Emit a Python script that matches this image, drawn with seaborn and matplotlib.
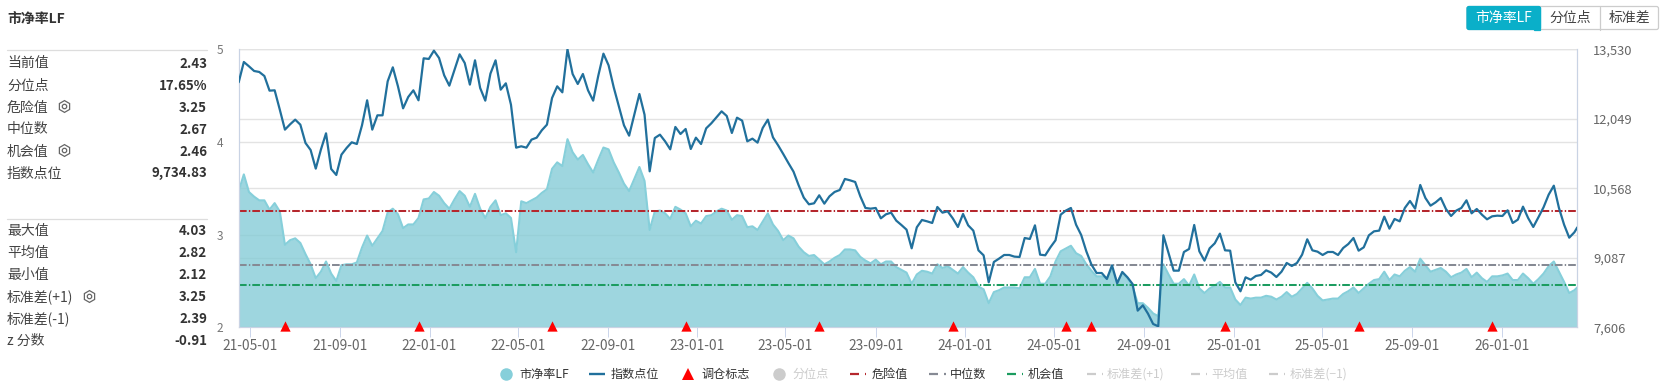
import matplotlib
matplotlib.use("Agg")
import matplotlib.pyplot as plt
from matplotlib.patches import FancyBboxPatch, Rectangle
import numpy as np
import pandas as pd
import seaborn as sns

# weekly readings, last one is a partial week
pb_values = [
    3.47, 3.65, 3.46, 3.41, 3.37, 3.37, 3.27, 3.34, 3.25, 2.89, 2.94, 2.96, 2.91, 2.79, 2.68, 2.53,
    2.60, 2.71, 2.58, 2.50, 2.67, 2.68, 2.68, 2.70, 2.86, 2.99, 2.88, 2.96, 3.04, 3.24, 3.28, 3.22,
    3.07, 3.11, 3.11, 3.18, 3.38, 3.39, 3.46, 3.42, 3.34, 3.28, 3.38, 3.47, 3.42, 3.30, 3.44, 3.28,
    3.18, 3.30, 3.37, 3.21, 3.23, 3.18, 2.81, 3.36, 3.34, 3.37, 3.40, 3.45, 3.49, 3.71, 3.78, 3.74,
    4.03, 3.89, 3.81, 3.86, 3.76, 3.67, 3.81, 3.94, 3.92, 3.78, 3.67, 3.55, 3.47, 3.60, 3.73, 3.58,
    3.05, 3.25, 3.26, 3.23, 3.17, 3.30, 3.27, 3.23, 3.09, 3.15, 3.12, 3.20, 3.21, 3.25, 3.28, 3.26,
    3.16, 3.21, 3.20, 3.08, 3.09, 3.05, 3.14, 3.23, 3.11, 3.04, 2.94, 2.99, 2.96, 2.87, 2.81, 2.77,
    2.78, 2.73, 2.68, 2.71, 2.75, 2.78, 2.84, 2.84, 2.83, 2.76, 2.72, 2.69, 2.73, 2.68, 2.71, 2.71,
    2.65, 2.62, 2.59, 2.47, 2.57, 2.61, 2.60, 2.58, 2.68, 2.64, 2.66, 2.62, 2.58, 2.65, 2.59, 2.54,
    2.44, 2.41, 2.26, 2.38, 2.40, 2.43, 2.43, 2.43, 2.42, 2.54, 2.54, 2.63, 2.47, 2.47, 2.55, 2.71,
    2.82, 2.85, 2.88, 2.80, 2.77, 2.68, 2.61, 2.55, 2.55, 2.53, 2.63, 2.48, 2.59, 2.53, 2.44, 2.26,
    2.26, 2.21, 2.15, 2.12, 2.68, 2.57, 2.47, 2.47, 2.52, 2.45, 2.57, 2.42, 2.37, 2.42, 2.45, 2.49,
    2.43, 2.43, 2.30, 2.24, 2.32, 2.31, 2.32, 2.32, 2.34, 2.33, 2.30, 2.33, 2.38, 2.33, 2.36, 2.42,
    2.48, 2.42, 2.34, 2.29, 2.30, 2.31, 2.31, 2.36, 2.39, 2.43, 2.37, 2.42, 2.47, 2.51, 2.52, 2.60,
    2.51, 2.57, 2.55, 2.61, 2.65, 2.60, 2.74, 2.67, 2.60, 2.62, 2.64, 2.60, 2.54, 2.57, 2.59, 2.63,
    2.54, 2.59, 2.53, 2.49, 2.55, 2.55, 2.56, 2.58, 2.51, 2.51, 2.58, 2.53, 2.47, 2.52, 2.58, 2.66,
    2.71, 2.60, 2.49, 2.37, 2.40, 2.43,
]
index_values = [
    12827, 13260, 13167, 13068, 13047, 12961, 12649, 12656, 12244, 11818, 11931, 12031, 11924, 11534, 11384, 10987,
    11392, 11740, 10980, 10852, 11285, 11427, 11548, 11512, 11910, 12443, 11818, 12123, 12123, 12848, 13146, 12741,
    12272, 12514, 12656, 12443, 13338, 13324, 13501, 13345, 12976, 12755, 13089, 13423, 13238, 12777, 13295, 12706,
    12436, 13011, 13295, 12670, 12805, 12350, 11434, 11463, 11434, 11605, 11647, 11804, 11924, 12493, 12741, 12613,
    13530, 13004, 12791, 13004, 12656, 12436, 12968, 13437, 13189, 12720, 12315, 11910, 11690, 12137, 12578, 12137,
    10930, 11640, 11711, 11569, 11399, 11875, 11725, 11832, 11406, 11647, 11512, 11846, 11953, 12081, 12208, 12109,
    11747, 12073, 12010, 11569, 11626, 11541, 11853, 12031, 11654, 11484, 11299, 11107, 10923, 10632, 10369, 10227,
    10248, 10419, 10241, 10397, 10490, 10532, 10767, 10738, 10703, 10397, 10149, 10134, 10149, 9928, 10014, 10049,
    9879, 9786, 9687, 9289, 9737, 9893, 9864, 9829, 10170, 10049, 10078, 9928, 9744, 10021, 9779, 9666,
    9246, 9140, 8565, 8998, 9069, 9147, 9147, 9112, 9104, 9509, 9488, 9779, 9154, 9140, 9310, 9460,
    10006, 10092, 10149, 9793, 9573, 9225, 8941, 8763, 8763, 8636, 8927, 8543, 8785, 8671, 8529, 7961,
    8074, 7897, 7677, 7627, 9566, 9190, 8813, 8813, 9211, 9275, 9786, 9225, 9026, 9289, 9396, 9602,
    9246, 9239, 8565, 8373, 8671, 8621, 8700, 8721, 8820, 8771, 8678, 8792, 8977, 8913, 8977, 9154,
    9481, 9246, 9218, 9147, 9211, 9211, 9147, 9296, 9381, 9509, 9239, 9310, 9566, 9651, 9666, 9964,
    9708, 9914, 9864, 10149, 10298, 10134, 10639, 10362, 10198, 10269, 10362, 10127, 9978, 10092, 10149, 10312,
    10035, 10127, 10006, 9907, 9971, 9985, 9978, 10099, 9829, 9900, 10177, 9935, 9744, 9950, 10163, 10433,
    10624, 10149, 9793, 9516, 9630, 9735,
]
rebalance_dates = ["2021-06-18", "2021-12-17", "2022-06-17", "2022-12-16", "2023-06-16", "2023-12-15",
                   "2024-05-17", "2024-06-21", "2024-12-20", "2025-06-20", "2025-12-19"]

danger_value = 3.25
median_value = 2.67
chance_value = 2.46

x_tick_dates = ["21-05-01", "21-09-01", "22-01-01", "22-05-01", "22-09-01", "23-01-01", "23-05-01", "23-09-01",
                "24-01-01", "24-05-01", "24-09-01", "25-01-01", "25-05-01", "25-09-01", "26-01-01"]
left_ticks = [2, 3, 4, 5]
right_ticks = [7606, 9087, 10568, 12049, 13530]

top_stats = [("当前值", "2.43"), ("分位点", "17.65%"), ("危险值", "3.25"), ("中位数", "2.67"),
             ("机会值", "2.46"), ("指数点位", "9,734.83")]
bottom_stats = [("最大值", "4.03"), ("平均值", "2.82"), ("最小值", "2.12"), ("标准差(+1)", "3.25"),
                ("标准差(-1)", "2.39"), ("z 分数", "-0.91")]

RED = "#b5272d"
GREY = "#868a94"
GREEN = "#1c9c60"
BLUE = "#21709c"
TEAL = "#86cfda"
FADED = "#cccccc"
DASHDOT = (0, (3.8, 1.1, 0.7, 1.0))

sns.set_theme(style="white")
plt.rcParams["font.family"] = ["Noto Sans CJK SC", "DejaVu Sans"]
plt.rcParams["axes.unicode_minus"] = False

W, H = 1665, 391
fig = plt.figure(figsize=(W / 100, H / 100), dpi=100, facecolor="white")

# plot box in pixels
left, right, top, bottom = 238.7, 1577.3, 49.3, 327.3
ax = fig.add_axes([left / W, 1 - bottom / H, (right - left) / W, (bottom - top) / H])
ax2 = ax.twinx()
ax.set_zorder(1)
ax2.set_zorder(2)
ax.patch.set_facecolor("white")
ax2.patch.set_visible(False)

dates = list(pd.date_range("2021-04-16", periods=len(pb_values) - 1, freq="7D")) + [pd.Timestamp("2026-04-14")]
df = pd.DataFrame({"date": dates, "pb": pb_values, "index": index_values})

# gridlines sit under the area, one set for each y axis
for t in left_ticks:
    ax.axhline(t, color="#e3e3e3", lw=1.0, zorder=0)
for v in right_ticks:
    ax.axhline(2 + (v - right_ticks[0]) / (right_ticks[-1] - right_ticks[0]) * 3, color="#e3e3e3", lw=1.0, zorder=0)

ax.fill_between(df["date"], df["pb"], 2, color="#83cbd6", alpha=0.78, lw=0, zorder=1)
sns.lineplot(data=df, x="date", y="pb", ax=ax, color=TEAL, lw=1.5, zorder=2, legend=False)
for level, c in [(danger_value, RED), (median_value, GREY), (chance_value, GREEN)]:
    ax.axhline(level, color=c, lw=1.45, ls=DASHDOT, zorder=3)

sns.lineplot(data=df, x="date", y="index", ax=ax2, color=BLUE, lw=1.6, zorder=4, legend=False)
# triangles sit a touch above the axis line
marks = pd.DataFrame({"date": pd.to_datetime(rebalance_dates), "y": right_ticks[0] + 30})
sns.scatterplot(data=marks, x="date", y="y", ax=ax2, marker="^", s=55, color="#ff0000", linewidth=0,
                clip_on=False, zorder=5, legend=False)

ax.set_xlim(dates[0], dates[-1])
ax.set_ylim(2, 5)
ax2.set_ylim(right_ticks[0], right_ticks[-1])
ax.set_xlabel("")
ax.set_ylabel("")
ax2.set_xlabel("")
ax2.set_ylabel("")

ax.set_xticks(pd.to_datetime(x_tick_dates, format="%y-%m-%d"))
ax.set_xticklabels(x_tick_dates, fontsize=9.9, color="#666666")
ax.tick_params(axis="x", length=7.2, width=0.72, color="#ccd6eb", pad=1.2, bottom=True)
ax.set_yticks(left_ticks)
ax.set_yticklabels(left_ticks, fontsize=8.6, color="#777777")
ax.tick_params(axis="y", length=0, pad=11)
ax2.set_yticks(right_ticks)
ax2.set_yticklabels([f"{v:,}" for v in right_ticks], fontsize=9.3, color="#666666")
ax2.tick_params(axis="y", length=0, pad=11.5)

for a in (ax, ax2):
    a.spines["top"].set_visible(False)
    for side in ("left", "right", "bottom"):
        a.spines[side].set_color("#c9d3e4")
        a.spines[side].set_linewidth(0.8)

# everything round the plot, laid out in pixels
ui = fig.add_axes([0, 0, 1, 1], zorder=3)
ui.set_xlim(0, W)
ui.set_ylim(H, 0)
ui.axis("off")

ui.text(7, 18.5, "市净率LF", fontsize=10, fontweight="bold", color="#333333", va="center")


def stats_block(rows, rule_y, first_y):
    ui.plot([7, 207], [rule_y, rule_y], color="#dddddd", lw=0.9)
    for i, (name, val) in enumerate(rows):
        y = first_y + i * 22
        ui.text(7, y, name, fontsize=10, color="#444444", va="center")
        ui.text(207, y, val, fontsize=9.6, fontweight="bold", color="#333333", va="center", ha="right")


def gear(x, y):
    ui.plot([x], [y], marker="h", ms=8.5, mfc="none", mec="#666666", mew=0.9)
    ui.plot([x], [y], marker="o", ms=3.2, mfc="none", mec="#666666", mew=0.9)


stats_block(top_stats, 50.4, 63.5)
stats_block(bottom_stats, 218.5, 231.2)
gear(64, 106)
gear(64, 150)
gear(88.6, 296)

# button group, top right
ui.add_patch(FancyBboxPatch((1467, 6.5), 191.5, 23, boxstyle="round,pad=0,rounding_size=2",
                            fc="white", ec="#cccccc", lw=0.9))
ui.add_patch(FancyBboxPatch((1467, 6.5), 73.5, 23, boxstyle="round,pad=0,rounding_size=2",
                            fc="#0aafc9", ec="#0aafc9", lw=0.9))
ui.add_patch(Rectangle((1534, 6.5), 6.5, 23, fc="#0aafc9", ec="#0aafc9", lw=0.9))
ui.plot([1600, 1600], [6.5, 29.5], color="#cccccc", lw=0.9)
ui.text(1504, 18, "市净率LF", fontsize=10, color="white", ha="center", va="center")
ui.text(1570.5, 18, "分位点", fontsize=10, color="#444444", ha="center", va="center")
ui.text(1630, 18, "标准差", fontsize=10, color="#444444", ha="center", va="center")

# legend
LEG_Y = 374


def legend_text(x, label, c="#333333"):
    ui.text(x, LEG_Y, label, fontsize=8.7, color=c, va="center")


def legend_dashdot(x, c, label, text_x):
    ui.plot([x, x + 9], [LEG_Y, LEG_Y], color=c, lw=1.6, solid_capstyle="butt")
    ui.plot([x + 15, x + 16.4], [LEG_Y, LEG_Y], color=c, lw=1.6, solid_capstyle="butt")
    legend_text(text_x, label, "#333333" if c != FADED else FADED)


ui.plot([506], [LEG_Y], marker="o", ms=9, color=TEAL, mew=0)
legend_text(519, "市净率LF")
ui.plot([589.4, 604.8], [LEG_Y, LEG_Y], color=BLUE, lw=1.7, solid_capstyle="butt")
legend_text(610.8, "指数点位")
ui.plot([688], [LEG_Y], marker="^", ms=9, color="#ff0000", mew=0)
legend_text(701, "调仓标志")
ui.plot([779], [LEG_Y], marker="o", ms=9, color=FADED, mew=0)
legend_text(792.6, "分位点", FADED)
legend_dashdot(850, RED, "危险值", 871.6)
legend_dashdot(929.3, GREY, "中位数", 950)
legend_dashdot(1007, GREEN, "机会值", 1028)
legend_dashdot(1086.7, FADED, "标准差(+1)", 1107)
legend_dashdot(1190.7, FADED, "平均值", 1211.7)
legend_dashdot(1269, FADED, "标准差(−1)", 1290)

fig.savefig("out.png", dpi=100, facecolor="white")
